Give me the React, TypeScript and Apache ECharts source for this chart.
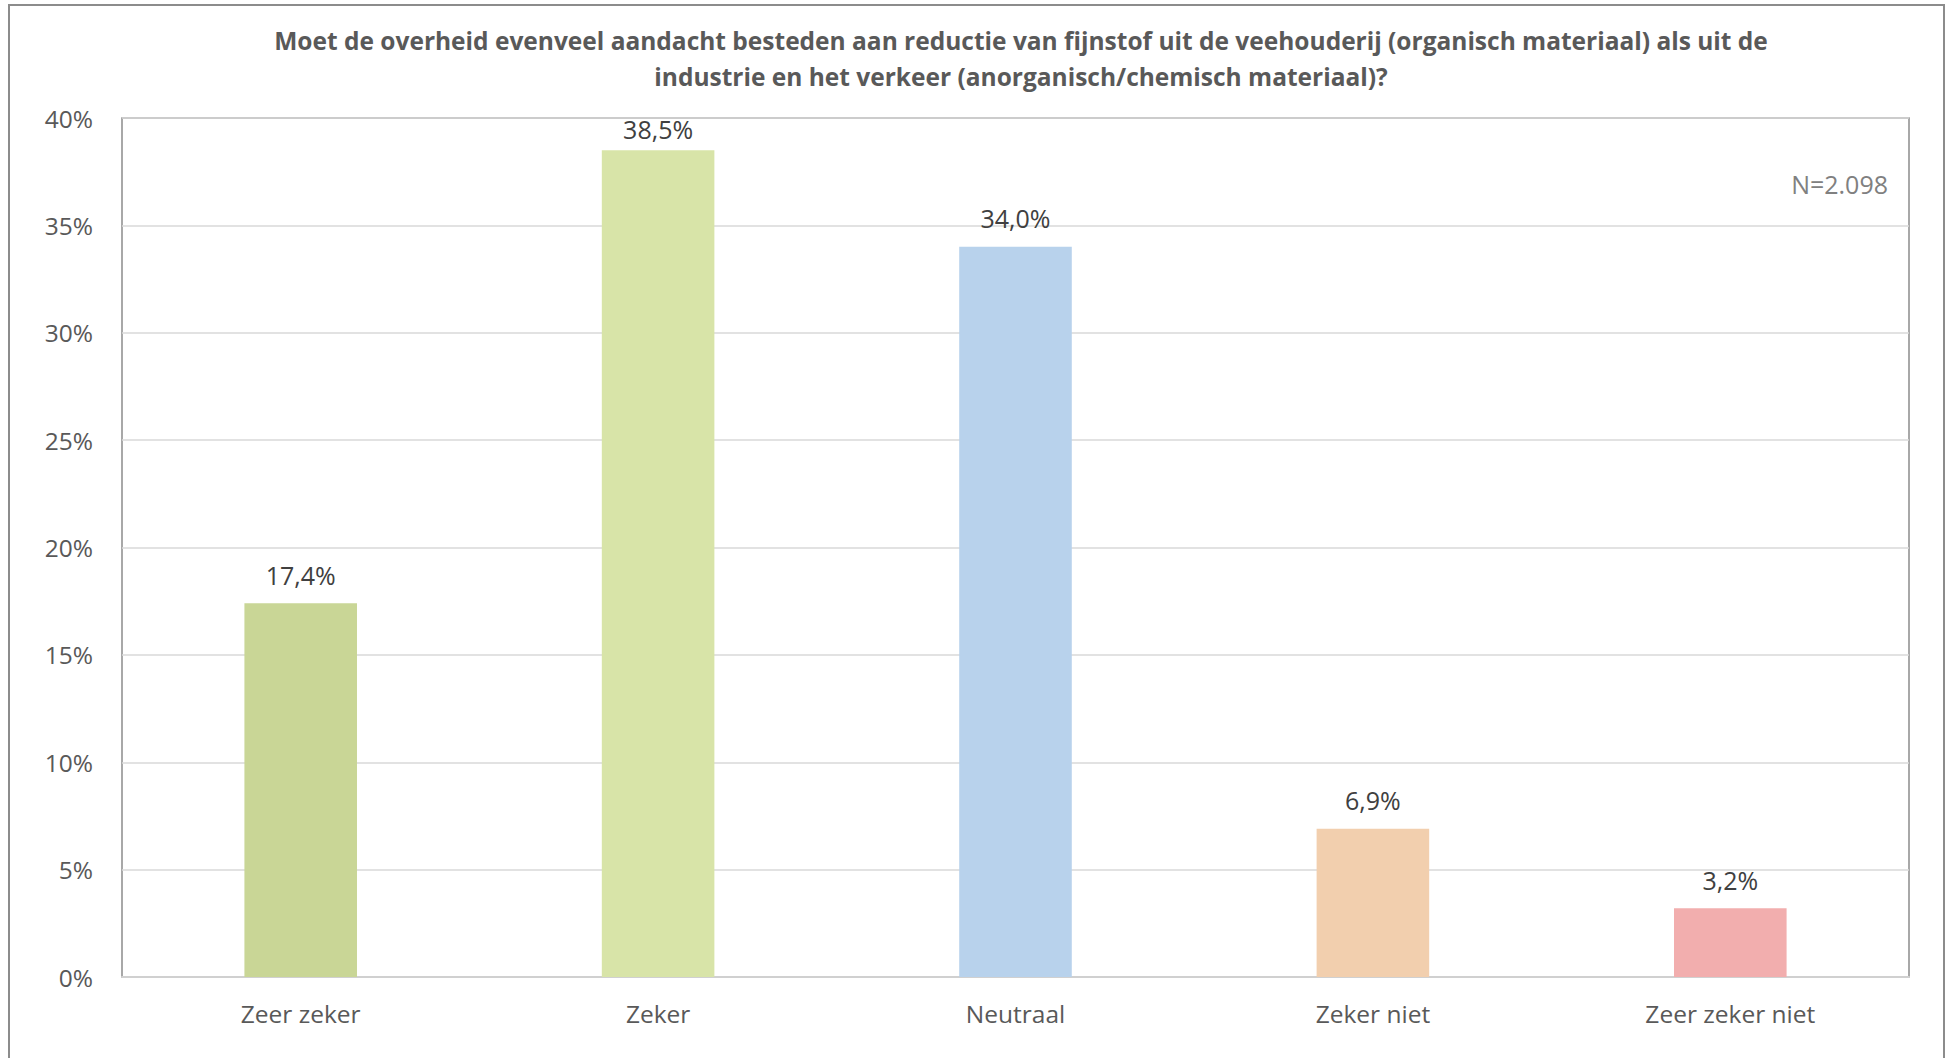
import React, { useEffect, useRef } from "react";
import * as echarts from "echarts";

const categories = ["Zeer zeker", "Zeker", "Neutraal", "Zeker niet", "Zeer zeker niet"];
const values = [17.4, 38.5, 34.0, 6.9, 3.2];
const barColors = ["#c9d696", "#d8e4a8", "#b8d2ec", "#f2cfae", "#f2aeae"];
const titleText =
  "Moet de overheid evenveel aandacht besteden aan reductie van fijnstof uit de veehouderij (organisch materiaal) als uit de\nindustrie en het verkeer (anorganisch/chemisch materiaal)?";
const noteText = "N=2.098";
const yMax = 40;

export default function App() {
  const ref = useRef<HTMLDivElement>(null);
  useEffect(() => {
    if (!ref.current) return;
    const chart = echarts.init(ref.current, null, { renderer: "svg" });
    const font = "Open Sans";
    chart.setOption({
      animation: false,
      backgroundColor: "#ffffff",
      graphic: [
        {
          type: "rect",
          shape: { x: 9, y: 5, width: 1935, height: 1100 },
          style: { fill: "none", stroke: "#8c8c8c", lineWidth: 2 },
          silent: true,
        },
        {
          type: "text",
          x: 1021,
          y: 22,
          style: {
            text: titleText,
            align: "center",
            verticalAlign: "top",
            fontFamily: font,
            fontWeight: "bold",
            fontSize: 24.5,
            lineHeight: 36,
            fill: "#595959",
          },
        },
        {
          type: "text",
          right: 61,
          top: 171,
          style: {
            text: noteText,
            fontFamily: font,
            fontSize: 25,
            fill: "#808080",
          },
        },
      ],
      grid: {
        left: 122,
        right: 40,
        top: 118,
        bottom: 81,
        show: true,
        borderColor: "#8c8c8c",
        borderWidth: 1.5,
        backgroundColor: "transparent",
      },
      xAxis: {
        type: "category",
        data: categories,
        axisTick: { show: false },
        axisLine: { show: true, lineStyle: { color: "#d0d0d0", width: 2 } },
        axisLabel: {
          margin: 24,
          fontFamily: font,
          fontSize: 24.5,
          color: "#595959",
        },
      },
      yAxis: {
        type: "value",
        min: 0,
        max: yMax,
        interval: 5,
        axisLine: { show: false },
        axisTick: { show: false },
        splitLine: { lineStyle: { color: "#d9d9d9", width: 1.5 } },
        axisLabel: {
          margin: 29,
          fontFamily: font,
          fontSize: 24.5,
          color: "#595959",
          formatter: (v: number) => v + "%",
        },
      },
      series: [
        {
          type: "bar",
          barWidth: "31.5%",
          data: values.map((v, i) => ({
            value: v,
            itemStyle: { color: barColors[i] },
            label: v > yMax - 3 ? { distance: 9 } : undefined,
          })),
          label: {
            show: true,
            position: "top",
            distance: 16,
            fontFamily: font,
            fontSize: 25,
            color: "#404040",
            formatter: (p: any) => p.value.toFixed(1).replace(".", ",") + "%",
          },
        },
      ],
    });
    return () => chart.dispose();
  }, []);
  return (
    <div
      ref={ref}
      style={{ position: "fixed", left: 0, top: 0, width: 1949, height: 1058 }}
    />
  );
}
